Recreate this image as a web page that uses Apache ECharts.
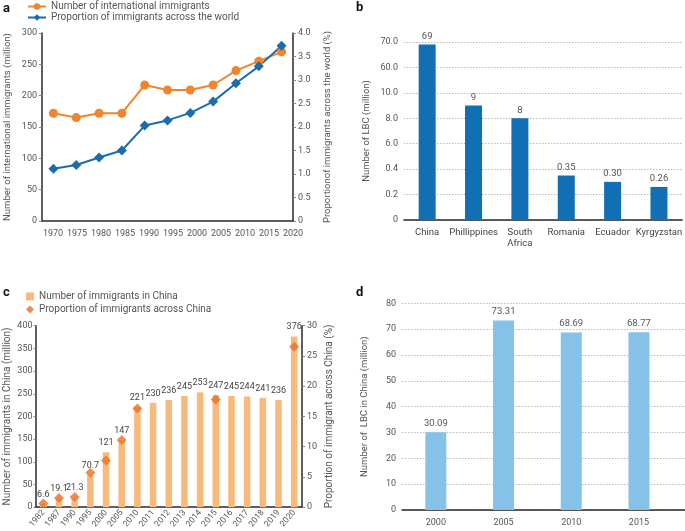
<!DOCTYPE html>
<html><head><meta charset="utf-8">
<script src="https://cdn.jsdelivr.net/npm/echarts@6/dist/echarts.min.js"></script>
<style>html,body{margin:0;padding:0;background:#fff}#c{width:685px;height:531px}</style>
</head><body><div id="c"></div>
<script>
// ---- Panel a data ----
const aCategories = ['1970','1975','1980','1985','1990','1995','2000','2005','2010','2015','2020'];
const aTickLabels = ['1970','1975','1980','1985','1990','1995','2000','2005','2010','2015','2020'];
const aNumber = [172, 165, 172, 172, 217, 209, 209, 217, 240, 255, 270];
const aProportion = [1.11, 1.19, 1.35, 1.50, 2.03, 2.14, 2.30, 2.54, 2.93, 3.29, 3.73];
// ---- Panel b data ----
const bCountries = ['China','Phillippines','South\nAfrica','Romania','Ecuador','Kyrgyzstan'];
const bValues = [69, 9, 8, 0.35, 0.30, 0.26];
const bTickValues = [0, 0.2, 0.4, 6, 8, 10, 60, 70];
const bTickLabels = ['0','0.2','0.4','6.0','8.0','10.0','60.0','70.0'];
// ---- Panel c data ----
const cYears = ['1982','1987','1990','1995','2000','2005','2010','2011','2012','2013','2014','2015','2016','2017','2018','2019','2020'];
const cNumber = [6.6, 19.1, 21.3, 70.7, 121, 147, 221, 230, 236, 245, 253, 247, 245, 244, 241, 236, 376];
const cProportion = [0.6, 1.5, 1.7, 5.7, 7.7, 11.1, 16.3, null, null, null, null, 17.8, null, null, null, null, 26.5];
// ---- Panel d data ----
const dYears = ['2000','2005','2010','2015'];
const dValues = [30.09, 73.31, 68.69, 68.77];

const FONT = 'Roboto';
const LBL = '#555';
const AX = '#2a2a2a';
const ORANGE = '#f0852d';
const BLUE = '#1b6cad';

// piecewise scale for panel b (evenly spaced ticks with uneven values)
function bPos(v){
  for (let i=0;i<bTickValues.length-1;i++){
    const a=bTickValues[i], b=bTickValues[i+1];
    if (v<=b) return i + (v-a)/(b-a);
  }
  return bTickValues.length-1;
}

const chart = echarts.init(document.getElementById('c'), null, {renderer:'canvas'});
const txt = {fontFamily: FONT, color: LBL, fontSize: 9};

const option = {
  animation:false,
  textStyle:{fontFamily:FONT},
  graphic:[
    {type:'text', left:3, top:2, style:{text:'a', font:'bold 13px '+FONT, fill:'#111'}},
    {type:'text', left:356, top:1, style:{text:'b', font:'bold 13px '+FONT, fill:'#111'}},
    {type:'text', left:3, top:286, style:{text:'c', font:'bold 13px '+FONT, fill:'#111'}},
    {type:'text', left:356, top:286, style:{text:'d', font:'bold 13px '+FONT, fill:'#111'}}
  ],
  legend:[
    {orient:'vertical', left:22, top:1, itemWidth:18, itemHeight:8, itemGap:0, padding:[0,5],
     textStyle:{fontFamily:FONT, fontSize:10, color:'#555', lineHeight:11},
     data:['Number of international immigrants','Proportion of immigrants across the world']},
    {orient:'vertical', left:21, top:291, itemWidth:8, itemHeight:8, itemGap:2, padding:[0,5],
     textStyle:{fontFamily:FONT, fontSize:10, color:'#555', lineHeight:11},
     data:[{name:'Number of immigrants in China', icon:'rect'},{name:'Proportion of immigrants across China', icon:'diamond'}]}
  ],
  grid:[
    {left:42, right:392, top:33, bottom:310},   // a
    {left:53, right:392, top:33, bottom:310},   // a tick labels
    {left:404, right:1, top:42, bottom:311},    // b
    {left:35.5, right:383, top:325.7, bottom:22}, // c
    {left:402, right:0, top:303.3, bottom:21}   // d
  ],
  xAxis:[
    {gridIndex:0, type:'category', data:aCategories, boundaryGap:true,
     axisLine:{lineStyle:{color:AX, width:1.5}}, axisTick:{show:false}, axisLabel:{show:false}},
    {gridIndex:1, type:'category', data:aTickLabels, boundaryGap:false,
     axisLine:{show:false}, axisTick:{show:false},
     axisLabel:Object.assign({margin:8, interval:0}, txt)},
    {gridIndex:2, type:'category', data:bCountries,
     axisLine:{lineStyle:{color:AX, width:1.5}}, axisTick:{show:false},
     axisLabel:Object.assign({margin:7, interval:0, lineHeight:11}, txt, {fontSize:9.5, color:'#444'})},
    {gridIndex:3, type:'category', data:cYears,
     axisLine:{lineStyle:{color:AX, width:1.5}}, axisTick:{show:false},
     axisLabel:Object.assign({margin:4, interval:0, rotate:50}, txt, {fontSize:8.5})},
    {gridIndex:4, type:'value', min:-0.5, max:3.68,
     splitLine:{show:false},
     axisLine:{lineStyle:{color:AX, width:1.5}}, axisTick:{show:false},
     axisLabel:Object.assign({margin:8, customValues:[0,1,2,3], formatter:(v)=>dYears[v]}, txt)}
  ],
  yAxis:[
    {gridIndex:0, type:'value', min:0, max:300, interval:50,
     name:'Number of international immigrants (million)', nameLocation:'middle', nameGap:29,
     nameTextStyle:{fontFamily:FONT, fontSize:9.5, color:'#555'},
     axisLine:{show:true, lineStyle:{color:AX, width:1.5}},
     axisTick:{show:true, length:3, lineStyle:{color:'#888'}},
     splitLine:{show:false}, axisLabel:Object.assign({margin:5}, txt)},
    {gridIndex:0, type:'value', min:0, max:4, interval:0.5, position:'right',
     name:'Proportionof immigrants across the world (%)', nameLocation:'middle', nameGap:30,
     nameTextStyle:{fontFamily:FONT, fontSize:9.5, color:'#555'},
     axisLine:{show:true, lineStyle:{color:AX, width:1.5}},
     axisTick:{show:true, length:3, lineStyle:{color:'#888'}},
     splitLine:{show:false},
     axisLabel:Object.assign({margin:5, formatter:(v)=> v===0?'0':v.toFixed(1)}, txt)},
    {gridIndex:1, type:'value', show:false},
    {gridIndex:2, type:'value', min:0, max:bTickValues.length-1, interval:1,
     name:'Number of LBC (million)', nameLocation:'middle', nameGap:32,
     nameTextStyle:{fontFamily:FONT, fontSize:9.5, color:'#555'},
     axisLine:{show:false}, axisTick:{show:false},
     splitLine:{lineStyle:{color:'#bbb', type:[1.5,1.5], width:1}},
     axisLabel:Object.assign({margin:6, formatter:(v)=>bTickLabels[Math.round(v)]}, txt)},
    {gridIndex:3, type:'value', min:0, max:400, interval:50,
     name:'Number of immigrants in China (million)', nameLocation:'middle', nameGap:23,
     nameTextStyle:{fontFamily:FONT, fontSize:10, color:'#555'},
     axisLine:{show:true, lineStyle:{color:AX, width:1.5}},
     axisTick:{show:true, length:2, lineStyle:{color:'#888'}},
     splitLine:{show:false}, axisLabel:Object.assign({margin:3}, txt)},
    {gridIndex:3, type:'value', min:0, max:30, interval:5, position:'right',
     name:'Proportion of immigrant across China (%)', nameLocation:'middle', nameGap:22,
     nameTextStyle:{fontFamily:FONT, fontSize:10, color:'#555'},
     axisLine:{show:true, lineStyle:{color:AX, width:1.5}},
     axisTick:{show:true, length:3, lineStyle:{color:'#888'}},
     splitLine:{show:false}, axisLabel:Object.assign({margin:5}, txt)},
    {gridIndex:4, type:'value', min:0, max:80, interval:10,
     name:'Number of  LBC in China (million)', nameLocation:'middle', nameGap:32,
     nameTextStyle:{fontFamily:FONT, fontSize:9.5, color:'#555'},
     axisLine:{show:false}, axisTick:{show:false},
     splitLine:{lineStyle:{color:'#bbb', type:[1.5,1.5], width:1}},
     axisLabel:Object.assign({margin:6}, txt)}
  ],
  series:[
    {name:'Number of international immigrants', type:'line', xAxisIndex:0, yAxisIndex:0,
     data:aNumber, symbol:'circle', symbolSize:9, color:ORANGE,
     lineStyle:{width:2, color:ORANGE}, itemStyle:{color:ORANGE}},
    {name:'Proportion of immigrants across the world', type:'line', xAxisIndex:0, yAxisIndex:1,
     data:aProportion, symbol:'diamond', symbolSize:10, color:BLUE,
     lineStyle:{width:2, color:BLUE}, itemStyle:{color:BLUE}},
    {name:'LBC', type:'bar', xAxisIndex:2, yAxisIndex:3, barWidth:17,
     data:bValues.map(v=>bPos(v)), itemStyle:{color:'#1170b3'},
     label:{show:true, position:'top', distance:3, fontFamily:FONT, fontSize:9.5, color:'#555',
       formatter:(p)=>{const v=bValues[p.dataIndex]; return v>=1? String(v) : v.toFixed(2);}}},
    {name:'Number of immigrants in China', type:'bar', xAxisIndex:3, yAxisIndex:4, barWidth:6.5,
     data:cNumber, color:'#f9b97b', itemStyle:{color:'#f9b97b'},
     label:{show:true, position:'top', distance:5, fontFamily:FONT, fontSize:9, color:'#444'}},
    {name:'Proportion of immigrants across China', type:'scatter', xAxisIndex:3, yAxisIndex:5,
     data:cProportion, symbol:'diamond', symbolSize:10, color:'#e8702a', itemStyle:{color:'#e8702a'}, z:5},
    {name:'LBC China', type:'bar', xAxisIndex:4, yAxisIndex:6, barWidth:21,
     data:dValues.map((v,i)=>[i,v]), itemStyle:{color:'#86c1e8'},
     label:{show:true, position:'top', distance:4, fontFamily:FONT, fontSize:9.5, color:'#555',
       formatter:(p)=>dValues[p.dataIndex].toFixed(2)}}
  ]
};
chart.setOption(option);
</script></body></html>
